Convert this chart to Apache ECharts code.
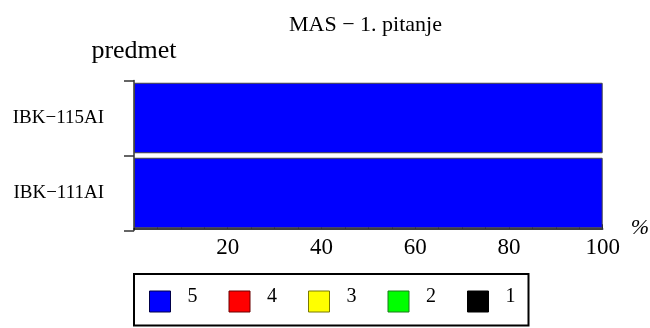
<!DOCTYPE html>
<html>
<head>
<meta charset="utf-8">
<script src="https://cdn.jsdelivr.net/npm/echarts@6/dist/echarts.min.js"></script>
<style>
html,body{margin:0;padding:0;background:#fff;}
#chart{width:650px;height:328px;}
</style>
</head>
<body>
<div id="chart"></div>
<script>
const titleText = 'MAS − 1. pitanje';
const yAxisName = 'predmet';
const xAxisName = '%';
const categories = ['IBK−115AI', 'IBK−111AI'];
const seriesNames = ['5', '4', '3', '2', '1'];
const seriesColors = ['#0000ff', '#ff0000', '#ffff00', '#00ff00', '#000000'];
const iconBorders = ['#00004a', '#6a0000', '#7a7a00', '#1a7a1a', '#000000'];
const values5 = [100, 100];
const values4 = [0, 0];
const values3 = [0, 0];
const values2 = [0, 0];
const values1 = [0, 0];
const xTicks = [0, 20, 40, 60, 80, 100];

const allValues = [values5, values4, values3, values2, values1];
const FONT = 'Liberation Serif';

const series = seriesNames.map((n, i) => ({
  name: n,
  type: 'bar',
  stack: 'total',
  data: allValues[i],
  barCategoryGap: '6%',
  itemStyle: {
    color: seriesColors[i],
    borderColor: i === 0 ? '#444' : seriesColors[i],
    borderWidth: i === 0 ? 1 : 0
  },
  emphasis: { disabled: true },
  animation: false
}));

const chart = echarts.init(document.getElementById('chart'), null, { renderer: 'canvas' });
chart.setOption({
  animation: false,
  backgroundColor: '#fff',
  title: {
    text: titleText,
    left: 289,
    top: 14,
    padding: 0,
    textStyle: { fontFamily: FONT, fontSize: 22, fontWeight: 'normal', color: '#000' }
  },
  legend: {
    data: seriesNames.map((n, i) => ({
      name: n,
      itemStyle: { color: seriesColors[i], borderColor: iconBorders[i], borderWidth: 1 }
    })),
    left: 134,
    top: 274,
    orient: 'horizontal',
    icon: 'rect',
    itemWidth: 21,
    itemHeight: 21,
    itemGap: 31,
    padding: [13, 13, 13, 15],
    borderColor: '#000',
    borderWidth: 2,
    selectedMode: false,
    formatter: '{t|{name}}',
    textStyle: {
      fontFamily: FONT, fontSize: 20, color: '#000',
      rich: { t: { fontFamily: FONT, fontSize: 20, color: '#000', padding: [0, 0, 9, 12] } }
    }
  },
  grid: { left: 134, right: 46.3, top: 80.5, bottom: 97.5, containLabel: false },
  xAxis: {
    type: 'value',
    min: xTicks[0],
    max: xTicks[xTicks.length - 1],
    interval: 20,
    offset: -2.2,
    name: xAxisName,
    nameLocation: 'end',
    nameGap: 28,
    nameTextStyle: { fontFamily: FONT, fontSize: 22, fontStyle: 'italic', color: '#000', verticalAlign: 'middle' },
    axisLine: { show: true, lineStyle: { color: '#000', width: 1.5 } },
    axisTick: { show: true, inside: true, length: 4, lineStyle: { color: '#000' } },
    minorTick: { show: true, splitNumber: 4, length: 2, lineStyle: { color: '#000' } },
    splitLine: { show: false },
    axisLabel: {
      fontFamily: FONT, fontSize: 23, color: '#000', margin: 8,
      formatter: v => (v === 0 ? '' : String(v))
    }
  },
  yAxis: {
    type: 'category',
    data: categories,
    inverse: true,
    name: yAxisName,
    nameLocation: 'start',
    nameGap: 16,
    nameTextStyle: { fontFamily: FONT, fontSize: 26, color: '#000' },
    axisLine: { show: true, lineStyle: { color: '#333', width: 1.5 } },
    axisTick: { show: true, length: 10, lineStyle: { color: '#333', width: 1.5 } },
    splitLine: { show: false },
    axisLabel: { fontFamily: FONT, fontSize: 19, color: '#000', margin: 30 }
  },
  series: series
});
</script>
</body>
</html>
